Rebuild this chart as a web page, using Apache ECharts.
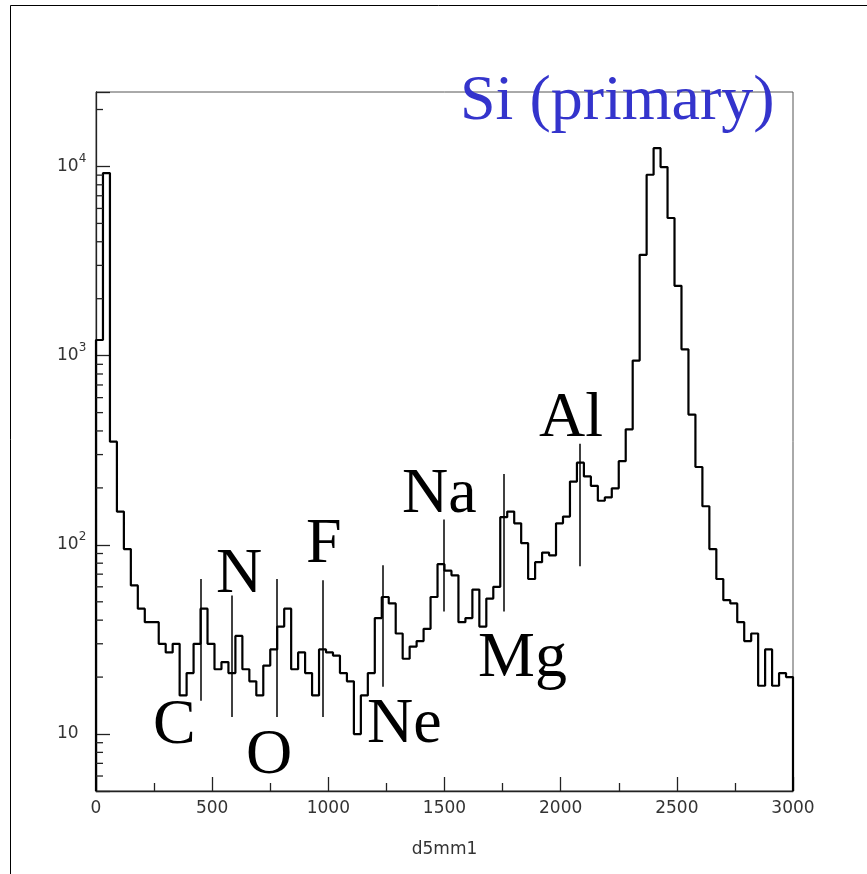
<!DOCTYPE html>
<html>
<head>
<meta charset="utf-8">
<title>d5mm1</title>
<script src="https://cdn.jsdelivr.net/npm/echarts@6/dist/echarts.min.js"></script>
<style>
  html, body { margin: 0; padding: 0; background: #fff; }
  #chart1 { width: 867px; height: 874px; }
</style>
</head>
<body>
<div id="chart1"></div>
<script>
// histogram d5mm1 : 100 bins of width 30 between 0 and 3000
const binStart = 0
const binWidth = 30
const counts = [
  1210, 9230, 351, 150, 95, 61, 46, 39, 39, 30,
  27, 30, 16, 21, 30, 46, 30, 22, 24, 21,
  33, 22, 19, 16, 23, 28, 37, 46, 22, 27,
  21, 16, 28, 27, 26, 21, 19, 10, 16, 21,
  41, 53, 49, 34, 25, 29, 31, 36, 53, 79,
  73, 69, 39, 41, 58, 37, 52, 60, 140, 150,
  130, 102, 66, 81, 91, 88, 130, 141, 216, 272,
  230, 205, 171, 178, 199, 277, 408, 942, 3410, 9040,
  12500, 9930, 5340, 2340, 1080, 488, 258, 160, 95, 66,
  51, 49, 39, 31, 34, 18, 28, 18, 21, 20
]

// element marks (vertical lines)
const elementNames = ['C', 'N', 'O', 'F', 'Ne', 'Na', 'Mg', 'Al']
const elementX = [452, 585, 778, 975, 1234, 1495, 1756, 2080]
const elementLow = [15, 12.3, 12.3, 12.3, 17.8, 44.4, 44.4, 77]
const elementHigh = [66, 54, 66, 65, 78, 136, 237, 342]

// axes
const xMin = 0
const xMax = 3000
const xStep = 500
const yMin = 5
const yMax = 24750
const yDecades = [1, 10, 100, 1000, 10000]

// minor log ticks 2..9 of every decade, kept inside the range
let yMinorTicks = []
yDecades.forEach(d => {
  for (let k = 2; k <= 9; k++) {
    const v = k * d
    if (v > yMin && v < yMax) yMinorTicks.push(v)
  }
})

// step outline of the histogram
let histPoints = [[binStart, yMin]]
counts.forEach((c, i) => {
  histPoints.push([binStart + i * binWidth, c])
})
const xEnd = binStart + counts.length * binWidth
histPoints.push([xEnd, counts[counts.length - 1]])
histPoints.push([xEnd, yMin])

const axisColor = '#222'
const labelFont = 'DejaVu Sans'
const bigFont = 'Liberation Serif, Times New Roman, serif'

let chartDom = document.getElementById('chart1')
let myChart = echarts.init(chartDom)

// big element labels, placed by hand like in the original picture
const textLabels = [
  { text: 'C', x: 153, y: 726 },
  { text: 'N', x: 216, y: 575 },
  { text: 'O', x: 246, y: 756 },
  { text: 'F', x: 306, y: 545 },
  { text: 'Ne', x: 367, y: 725 },
  { text: 'Na', x: 402, y: 495 },
  { text: 'Mg', x: 478, y: 659 },
  { text: 'Al', x: 539, y: 419 }
]

let graphics = textLabels.map(t => ({
  type: 'text',
  left: t.x,
  top: t.y - 32,
  z: 100,
  style: { text: t.text, font: '64px ' + bigFont, fill: '#000' }
}))
graphics.push({
  type: 'text',
  left: 460,
  top: 70,
  z: 100,
  style: { text: 'Si (primary)', font: '64px ' + bigFont, fill: '#3434cc' }
})
// outer pad frame
graphics.push({ type: 'line', shape: { x1: 10.5, y1: 5.5, x2: 867, y2: 5.5 }, style: { stroke: '#000', lineWidth: 1 } })
graphics.push({ type: 'line', shape: { x1: 10.5, y1: 5.5, x2: 10.5, y2: 874 }, style: { stroke: '#000', lineWidth: 1 } })

let option = {
  animation: false,
  backgroundColor: '#fff',
  grid: {
    left: 96,
    right: 74,
    top: 92,
    bottom: 83,
    show: true,
    borderColor: '#555',
    borderWidth: 1
  },
  xAxis: {
    type: 'value',
    min: xMin,
    max: xMax,
    interval: xStep,
    name: 'd5mm1',
    nameLocation: 'middle',
    nameGap: 50,
    nameTextStyle: { fontFamily: labelFont, fontSize: 17, color: '#333' },
    axisLine: { onZero: false, lineStyle: { color: axisColor, width: 1.3 } },
    axisTick: { inside: true, length: 14, lineStyle: { color: axisColor, width: 1.3 } },
    minorTick: { show: true, splitNumber: 2, length: 8, lineStyle: { color: axisColor, width: 1.3 } },
    splitLine: { show: false },
    axisLabel: {
      margin: 9,
      fontFamily: labelFont,
      fontSize: 17,
      color: '#333',
      formatter: v => String(v)
    }
  },
  yAxis: {
    type: 'log',
    logBase: 10,
    min: yMin,
    max: yMax,
    axisLine: { show: true, lineStyle: { color: axisColor, width: 1.3 } },
    axisTick: { show: true, inside: true, length: 14, lineStyle: { color: axisColor, width: 1.3 } },
    splitLine: { show: false },
    axisLabel: {
      margin: 39,
      align: 'left',
      formatter: function (v) {
        const e = Math.log10(v)
        if (Math.abs(e - Math.round(e)) > 1e-6) return ''
        const p = Math.round(e)
        if (p === 1) return '{b|10}'
        return '{b|10}{s|' + p + '}'
      },
      rich: {
        b: { fontFamily: labelFont, fontSize: 17, color: '#333', lineHeight: 28 },
        s: { fontFamily: labelFont, fontSize: 12, color: '#333', verticalAlign: 'top' }
      }
    }
  },
  graphic: graphics,
  series: [
    {
      name: 'd5mm1',
      type: 'line',
      step: 'end',
      data: histPoints,
      showSymbol: false,
      symbol: 'none',
      lineStyle: { color: '#000', width: 2.2 },
      z: 3
    },
    {
      name: 'elements',
      type: 'lines',
      coordinateSystem: 'cartesian2d',
      data: elementX.map((x, i) => ({
        name: elementNames[i],
        coords: [[x, elementLow[i]], [x, elementHigh[i]]]
      })),
      lineStyle: { color: '#000', width: 1.5, opacity: 1 },
      z: 4
    },
    {
      name: 'minor ticks',
      type: 'custom',
      coordinateSystem: 'cartesian2d',
      silent: true,
      data: yMinorTicks.map(v => [xMin, v]),
      renderItem: function (params, api) {
        const p = api.coord([api.value(0), api.value(1)])
        return {
          type: 'line',
          shape: { x1: p[0], y1: p[1], x2: p[0] + 7, y2: p[1] },
          style: { stroke: axisColor, lineWidth: 1.3 }
        }
      },
      z: 5
    }
  ]
}

option && myChart.setOption(option)
</script>
</body>
</html>
